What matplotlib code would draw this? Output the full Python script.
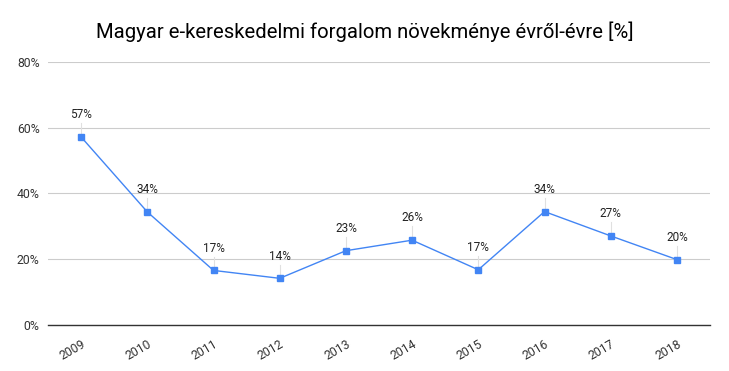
import matplotlib.pyplot as plt
from matplotlib.ticker import FuncFormatter

years = ['2009', '2010', '2011', '2012', '2013', '2014', '2015', '2016', '2017', '2018']
growth = [57.2, 34.4, 16.6, 14.2, 22.6, 25.8, 16.8, 34.5, 27.1, 19.9]
labels = ['57%', '34%', '17%', '14%', '23%', '26%', '17%', '34%', '27%', '20%']

plt.rcParams['font.family'] = ['Roboto', 'DejaVu Sans']

fig = plt.figure(figsize=(7.29, 3.71), dpi=100)
ax = fig.add_axes([48 / 729, 1 - 325 / 371, (710 - 48) / 729, (325 - 62) / 371])

x = list(range(len(years)))
ax.plot(x, growth, color='#4285f4', linewidth=1, marker='s', markersize=4.8, zorder=3)

for xi, yi, lab in zip(x, growth, labels):
    ax.plot([xi, xi], [yi, yi + 4.2], color='#e0e0e0', linewidth=0.8, zorder=2)
    ax.text(xi, yi + 4.8, lab, ha='center', va='bottom', fontsize=8.5, color='#222222')

ax.set_xlim(-0.5, len(years) - 0.5)
ax.set_ylim(0, 80)
ax.set_yticks([0, 20, 40, 60, 80])
ax.yaxis.set_major_formatter(FuncFormatter(lambda v, p: f'{v:.0f}%'))
ax.set_xticks(x)
ax.set_xticklabels(years, rotation=30, ha='right', rotation_mode='anchor')
ax.tick_params(axis='both', length=0, labelsize=8.8, colors='#333333', pad=6)
ax.tick_params(axis='x', pad=9)

ax.grid(axis='y', color='#cccccc', linewidth=0.8)
ax.set_axisbelow(True)
for s in ['top', 'right', 'left']:
    ax.spines[s].set_visible(False)
ax.spines['bottom'].set_color('#333333')
ax.spines['bottom'].set_linewidth(1)

fig.text(365 / 729, 1 - 32 / 371, 'Magyar e-kereskedelmi forgalom növekménye évről-évre [%]',
         ha='center', va='center', fontsize=14.6, color='#000000')

fig.savefig('out.png', dpi=100)
